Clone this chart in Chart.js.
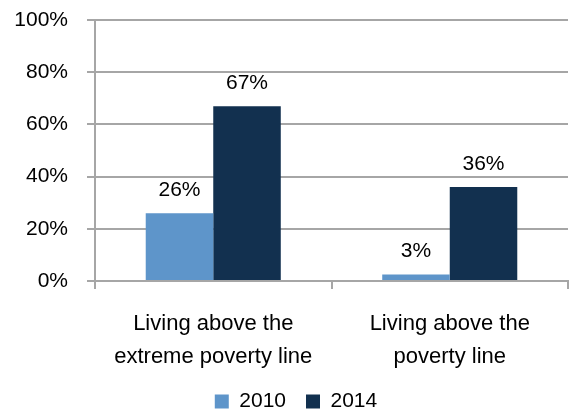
<!DOCTYPE html>
<html>
<head>
<meta charset="utf-8">
<script src="https://cdn.jsdelivr.net/npm/chart.js@4"></script>
<style>
  html, body { margin: 0; padding: 0; background: #fff; }
  #wrap { width: 571px; height: 410px; position: relative; }
</style>
</head>
<body>
<div id="wrap"><canvas id="chart"></canvas></div>
<script>
const categories = [
  ['Living above the', 'extreme poverty line'],
  ['Living above the', 'poverty line']
];
const seriesNames = ['2010', '2014'];
const values2010 = [26, 2.5];
const values2014 = [67, 36];
const yTicks = [0, 20, 40, 60, 80, 100];

const FONT = "'Liberation Sans', Arial, sans-serif";
const GRID = '#a6a6a6';

// value labels over the bars
const barLabels = {
  id: 'barLabels',
  afterDatasetsDraw(chart) {
    const ctx = chart.ctx;
    ctx.save();
    ctx.font = '21px ' + FONT;
    ctx.fillStyle = '#000';
    ctx.textAlign = 'center';
    ctx.textBaseline = 'alphabetic';
    chart.data.datasets.forEach((ds, i) => {
      chart.getDatasetMeta(i).data.forEach((bar, j) => {
        ctx.fillText(Math.round(ds.data[j]) + '%', bar.x, bar.y - 17);
      });
    });
    ctx.restore();
  }
};

// legend sits a bit right of the canvas centre in the original
const legendShift = {
  id: 'legendShift',
  afterLayout(chart) {
    chart.legend.left += 12;
    chart.legend.right += 12;
  }
};

const ctx = document.getElementById('chart').getContext('2d');
new Chart(ctx, {
  type: 'bar',
  data: {
    labels: categories,
    datasets: [
      { label: seriesNames[0], data: values2010, backgroundColor: '#5e95ca' },
      { label: seriesNames[1], data: values2014, backgroundColor: '#12304f' }
    ]
  },
  options: {
    responsive: true,
    maintainAspectRatio: false,
    animation: false,
    layout: { padding: { top: 20, right: 3, left: 0, bottom: -12 } },
    datasets: {
      bar: { categoryPercentage: 0.571, barPercentage: 1 }
    },
    scales: {
      x: {
        grid: { drawOnChartArea: false, drawTicks: true, tickLength: 8, color: GRID, lineWidth: 2 },
        border: { display: true, color: GRID, width: 2 },
        ticks: {
          color: '#000',
          font: { family: FONT, size: 22, lineHeight: 1.47 },
          padding: 19,
          maxRotation: 0,
          autoSkip: false
        },
        afterFit: (scale) => { scale.height = 90; }
      },
      y: {
        min: 0,
        max: 100,
        afterBuildTicks: (scale) => { scale.ticks = yTicks.map(v => ({ value: v })); },
        grid: { drawTicks: true, tickLength: 8, color: GRID, lineWidth: 2 },
        border: { display: true, color: GRID, width: 2 },
        ticks: {
          color: '#000',
          font: { family: FONT, size: 21 },
          padding: 19,
          callback: (v) => v + '%'
        },
        afterFit: (scale) => {
          scale.width = 95;
          scale.paddingTop = 0;
          scale.paddingBottom = 0;
        }
      }
    },
    plugins: {
      legend: {
        position: 'bottom',
        labels: {
          color: '#000',
          font: { family: FONT, size: 21 },
          boxWidth: 14,
          boxHeight: 14,
          padding: 20
        }
      },
      tooltip: { enabled: false }
    }
  },
  plugins: [barLabels, legendShift]
});
</script>
</body>
</html>
